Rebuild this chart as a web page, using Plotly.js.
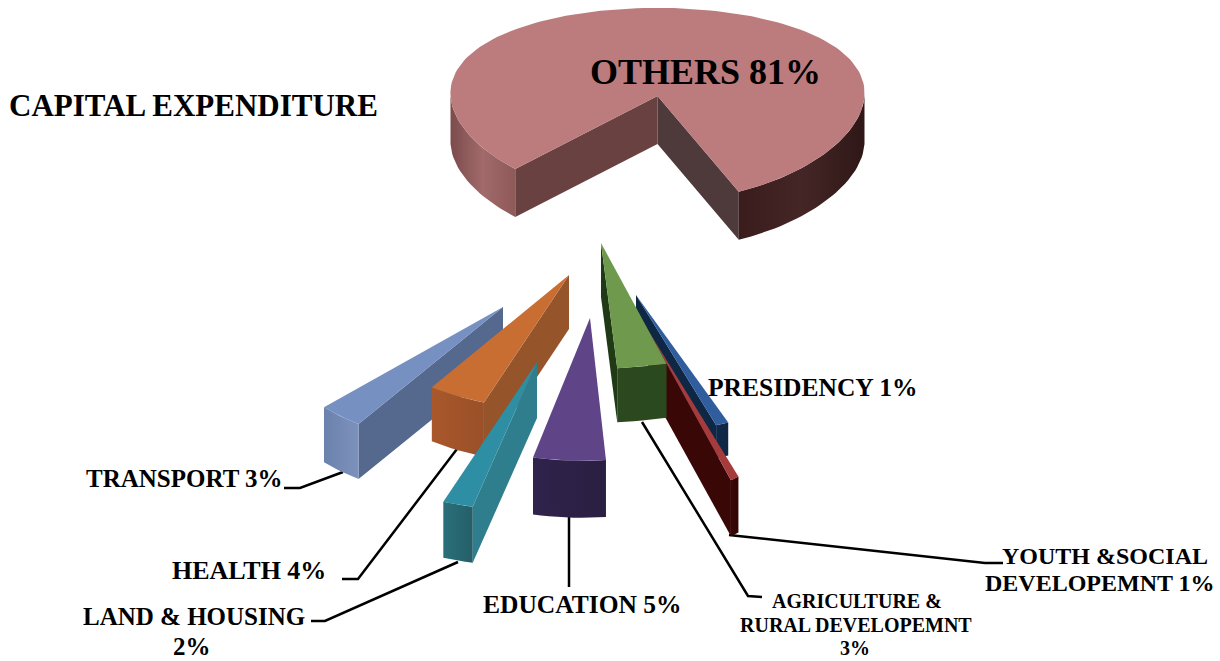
<!DOCTYPE html>
<html>
<head>
<meta charset="utf-8">
<script src="https://cdn.plot.ly/plotly-3.0.1.min.js"></script>
<style>html,body{margin:0;padding:0;background:#fff}#chart{width:1220px;height:661px}</style>
</head>
<body>
<div id="chart"></div>
<script>
// Capital expenditure by sector, percent of total
const sectors = ['OTHERS', 'TRANSPORT', 'HEALTH', 'LAND & HOUSING', 'EDUCATION', 'AGRICULTURE', 'PRESIDENCY', 'YOUTH'];
const shares  = [81, 3, 4, 2, 5, 3, 1, 1];

// Pie rotation: angle (degrees from straight down, towards the right) where the first slice begins
const firstAngle = 23.8;

// Exploded placement of each slice's tip, and its projection onto the tilted plane
const tipX   = [657.5, 503, 569, 537, 590, 601, 636, 648];
const tipY   = [96, 307, 275, 362, 318, 243, 295, 330];
const radius = [207, 245, 236, 247, 234, 265, 210, 143];
const tilt   = [0.464, 0.575, 0.573, 0.60, 0.61, 0.475, 0.647, 1.12];
const shear  = [0, -0.04, -0.03, -0.05, -0.033, -0.04, 0.10, 0.25];
const depth  = [48, 55, 54, 56, 57, 54, 33, 56];
const nearY  = [0.09, 0, 0, 0, 0, 0, 0, 0];   // vertical perspective
const nearX  = [0.03, 0, 0, 0, 0, 0, 0, 0];   // horizontal narrowing towards the viewer

// Which cut edge of a slice shows its wall
const wallEdge = ['both', 'end', 'end', 'end', 'none', 'start', 'start', 'start'];

// Face colours
const topColor  = ['#BC7C7D', '#7690C2', '#C96E33', '#2E8EA4', '#5F4588', '#6F9A4D', '#2F5D9E', '#A63B3B'];
const wallColor = ['#6A4141', '#55698E', '#96542A', '#2F7E8D', '#2E2148', '#1F3A14', '#0E2744', '#3A0707'];
const rimStops  = [
  ['#5A3536', '#3A1C1C'],
  ['#6B82AC', '#7C92BC'],
  ['#A9582B', '#9A5028'],
  ['#2A6F7A', '#255F69'],
  ['#30234C', '#2A1E42'],
  ['#2C481F', '#2A4A1E'],
  ['#10294A', '#0F2744'],
  ['#3A0707', '#2E0505']
];
const othersLeftRim  = ['#7C4B4C', '#A26A6A', '#8E5959'];
const othersRightRim = ['#3A1C1C', '#452626', '#2F1717'];
const othersNearWall = '#4F3A3B';

// Leader lines from labels to slices
const leaderX = [[284, 300, 343], [342, 358, 457], [311, 325, 458], [569, 569], [642, 748, 762], [1003, 985, 729]];
const leaderY = [[488, 488, 472], [579, 579, 449], [621, 621, 562], [517, 587], [422, 596, 597], [563, 563, 535]];

// Label lines and placement
const labelText = [
  'CAPITAL EXPENDITURE', 'OTHERS 81%', 'TRANSPORT 3%', 'HEALTH 4%',
  'LAND &amp; HOUSING', '2%', 'EDUCATION 5%', 'PRESIDENCY 1%',
  'AGRICULTURE &amp;', 'RURAL DEVELOPEMNT', '3%', 'YOUTH &amp;SOCIAL', 'DEVELOPEMNT 1%'
];
const labelX = [193.5, 705, 184.5, 249, 193.5, 192, 582.5, 812.5, 857, 856, 855, 1105, 1100];
const labelY = [105, 72, 478, 570, 616, 646, 604, 387, 601, 625, 648, 556, 583];
const labelSize = [31, 36, 25, 26, 25, 25, 25.5, 25.5, 20, 20, 20, 24, 24];

const toRad = d => d * Math.PI / 180;

function project(i, deg) {
  const s = Math.sin(toRad(deg)), c = Math.cos(toRad(deg));
  return [
    tipX[i] + radius[i] * (s * (1 - nearX[i] * c) + shear[i] * c),
    tipY[i] + radius[i] * tilt[i] * c / (1 - nearY[i] * c)
  ];
}

function arc(i, from, to) {
  const pts = [], n = Math.max(4, Math.ceil(Math.abs(to - from) / 2));
  for (let k = 0; k <= n; k++) pts.push(project(i, from + (to - from) * k / n));
  return pts;
}

function face(points, color, grad) {
  const t = {
    type: 'scatter', mode: 'lines', fill: 'toself',
    x: points.map(p => p[0]).concat(points[0][0]),
    y: points.map(p => p[1]).concat(points[0][1]),
    line: {width: 0}, hoverinfo: 'skip', showlegend: false
  };
  if (grad) {
    t.fillgradient = {
      type: 'horizontal',
      colorscale: grad.map((c, k) => [k / (grad.length - 1), c])
    };
  } else {
    t.fillcolor = color;
  }
  return t;
}

const lowered = (pts, d) => pts.map(p => [p[0], p[1] + d]).reverse();
const band = (pts, d) => pts.concat(lowered(pts, d));

function wall(i, deg) {
  const tip = [tipX[i], tipY[i]];
  return band([tip, project(i, deg)], depth[i]);
}

// Angular extent of every slice
const spans = [];
shares.reduce((start, v) => {
  const end = start + v * 3.6;
  spans.push([start, end]);
  return end;
}, firstAngle);

function sliceFaces(i) {
  const [a, b] = spans[i];
  const out = [];
  const tip = [tipX[i], tipY[i]];
  if (i === 0) {
    out.push(face(wall(i, b), wallColor[i]));
    out.push(face(wall(i, a), othersNearWall));
    out.push(face(band(arc(i, a, 90), depth[i]), null, othersRightRim));
    out.push(face(band(arc(i, 270, b), depth[i]), null, othersLeftRim));
  } else {
    if (wallEdge[i] === 'end') out.push(face(wall(i, b), wallColor[i]));
    if (wallEdge[i] === 'start') out.push(face(wall(i, a), wallColor[i]));
    out.push(face(band(arc(i, a, b), depth[i]), null, rimStops[i]));
  }
  out.push(face([tip].concat(arc(i, a, b)), topColor[i]));
  return out;
}

// Back to front: nearer slices overlap their neighbours
const drawOrder = [0, 1, 2, 3, 4, 6, 7, 5];
const traces = [];
leaderX.forEach((xs, k) => traces.push({
  type: 'scatter', mode: 'lines', x: xs, y: leaderY[k],
  line: {color: '#000', width: 2.5}, hoverinfo: 'skip', showlegend: false
}));
drawOrder.forEach(i => sliceFaces(i).forEach(f => traces.push(f)));

const hidden = {visible: false, fixedrange: true};
const layout = {
  width: 1220, height: 661,
  margin: {l: 0, r: 0, t: 0, b: 0},
  paper_bgcolor: '#fff', plot_bgcolor: '#fff',
  showlegend: false,
  xaxis: Object.assign({range: [0, 1220]}, hidden),
  yaxis: Object.assign({range: [661, 0]}, hidden),
  annotations: labelText.map((text, k) => ({
    text, x: labelX[k], y: labelY[k], xref: 'x', yref: 'y',
    xanchor: 'center', yanchor: 'middle', align: 'center', showarrow: false,
    font: {family: '"Liberation Serif", serif', size: labelSize[k], color: '#000', weight: 700}
  }))
};

Plotly.newPlot('chart', traces, layout, {displayModeBar: false, staticPlot: true});
</script>
</body>
</html>
